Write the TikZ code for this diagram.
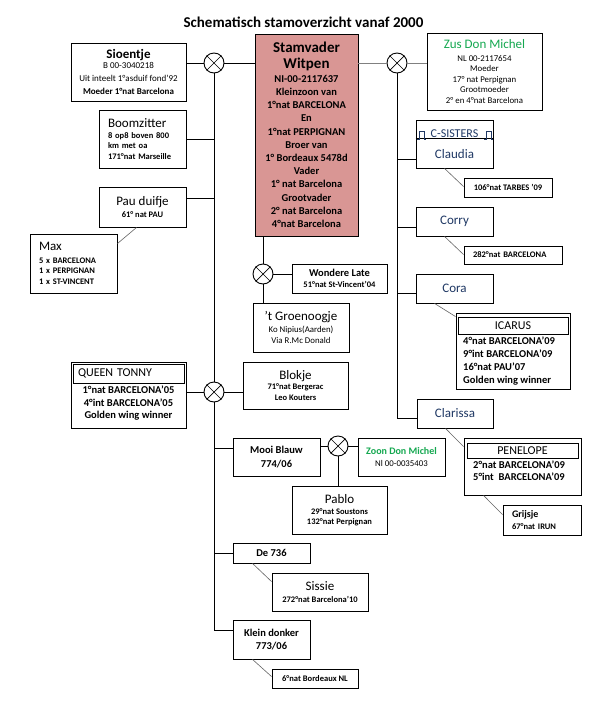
\documentclass[tikz,border=0pt]{standalone}
\usepackage{fontspec}
\setmainfont{Carlito}
\definecolor{stamfill}{RGB}{217,150,148}
\definecolor{dgreen}{RGB}{20,168,80}
\definecolor{navy}{RGB}{31,56,100}
\definecolor{lgray}{RGB}{100,100,100}
\newcommand\fsz[2]{\fontsize{#1}{#2}\selectfont}
\begin{document}
\begin{tikzpicture}[x=1pt,y=-1pt,
  box/.style={draw, line width=0.9pt, inner sep=0pt, align=center},
  xc/.style={draw, circle, line width=0.9pt, minimum size=20pt, inner sep=0pt},
  link/.style={line width=0.9pt},
  glink/.style={line width=0.9pt, draw=gray},
  diag/.style={line width=0.6pt, draw=lgray},
  orn/.style={line width=0.6pt, draw=navy},
]
\fill[white] (0,0) rectangle (615,718);
\useasboundingbox (0,0) rectangle (615,718);

\node[font=\fsz{15}{18}\bfseries] (title) at (303.5,22) {Schematisch stamoverzicht vanaf 2000};

% top row
\node[box, minimum width=115pt, minimum height=58pt, font=\fsz{9}{13}] (sio) at (128.5,72)
  {{\fsz{13}{13}\bfseries Sioentje}\\[-3pt] B 00-3040218\\ Uit inteelt 1°asduif fond'92\\ \bfseries Moeder 1°nat Barcelona};
\node[xc] (c1) at (214,63) {};
\node[box, fill=stamfill, minimum width=103pt, minimum height=202pt, font=\fsz{10.5}{13.2}\bfseries] (stam) at (306.5,135)
  {{\fsz{15}{15}\bfseries Stamvader}\\[2pt] {\fsz{15}{15}\bfseries Witpen}\\[1pt] NI-00-2117637\\ Kleinzoon van\\ 1°nat BARCELONA\\ En\\ 1°nat PERPIGNAN\\ Broer van\\ 1° Bordeaux 5478d\\ Vader\\ 1° nat Barcelona\\ Grootvader\\ 2° nat Barcelona\\ 4°nat Barcelona};
\node[xc] (c2) at (397,63) {};
\node[box, minimum width=115pt, minimum height=77pt, font=\fsz{8.8}{10.5}] (zus) at (484.5,71.5)
  {{\fsz{13}{13}\color{dgreen}Zus Don Michel}\\[2pt] NL 00-2117654\\ Moeder\\ 17° nat Perpignan\\ Grootmoeder\\ 2° en 4°nat Barcelona};

% left column
\node[box, minimum width=87pt, minimum height=58pt, align=left, text width=69pt, inner xsep=9pt, font=\fsz{8.5}{10.7}\bfseries] (boom) at (142.5,139)
  {{\fsz{13}{13}\mdseries Boomzitter}\\ 8 op8 boven 800\\ km met oa\\ 171°nat Marseille};
\node[box, minimum width=87pt, minimum height=40pt, font=\fsz{8.5}{12.6}\bfseries] (pau) at (142.5,207)
  {{\fsz{13}{13}\mdseries Pau duifje}\\ 61° nat PAU};
\node[box, minimum width=87pt, minimum height=59pt, align=left, text width=69pt, inner xsep=9pt, font=\fsz{8.5}{10.5}\bfseries] (max) at (73.5,263.5)
  {{\fsz{13}{13}\mdseries Max}\\[2pt] 5 x BARCELONA\\ 1 x PERPIGNAN\\ 1 x ST-VINCENT};

% under Stamvader
\node[xc] (c3) at (263,274) {};
\node[box, minimum width=95pt, minimum height=29pt, font=\fsz{8.5}{10.7}\bfseries] (wl) at (339.5,278.5)
  {{\fsz{10.5}{10.5}\bfseries Wondere Late}\\ 51°nat St-Vincent'04};
\node[box, minimum width=96pt, minimum height=49pt, font=\fsz{8.8}{10.5}] (gr) at (301,327.5)
  {{\fsz{13}{13}'t Groenoogje}\\[1.5pt] Ko Nipius(Aarden)\\ Via R.Mc Donald};

% C-sisters
\node[box, minimum width=77pt, minimum height=48pt, font=\fsz{13}{20.7}\color{navy}] (cla) at (454.5,144)
  {{\fsz{12}{12}C-SISTERS}\\ Claudia};
\draw[line width=0.9pt] ([yshift=-19pt]cla.north west) -- ([yshift=-19pt]cla.north east);
\draw[orn] (417,139) -- (419,139) -- (419,131.5) -- (424,131.5) -- (424,139) -- (426,139);
\draw[orn] (484,139) -- (486,139) -- (486,131.5) -- (491,131.5) -- (491,139) -- (493,139);
\node[box, minimum width=88pt, minimum height=19pt, font=\fsz{8.5}{10}\bfseries] (tar) at (508,187.5) {106°nat TARBES '09};
\node[box, minimum width=77pt, minimum height=29pt, font=\fsz{13}{13}\color{navy}] (cor) at (454.5,221.5) {Corry};
\node[box, minimum width=98pt, minimum height=18pt, align=left, text width=80pt, inner xsep=9pt, font=\fsz{8.5}{10}\bfseries] (n282) at (513,255) {282°nat BARCELONA};
\node[box, minimum width=77pt, minimum height=29pt, font=\fsz{13}{13}\color{navy}] (cora) at (454.5,288.5) {Cora};
\node[box, minimum width=114pt, minimum height=76pt] (icarus) at (513,351) {};
\node[box, line width=0.8pt, minimum width=110pt, minimum height=17pt, font=\fsz{12}{12}] (ichead) at (513,325.5) {ICARUS};
\node[anchor=north west, inner sep=0pt, align=left, font=\fsz{10.5}{12.8}\bfseries] (ictext) at (463,337)
  {4°nat BARCELONA'09\\ 9°int BARCELONA'09\\ 16°nat PAU'07\\ Golden wing winner};
\node[box, minimum width=76pt, minimum height=29pt, font=\fsz{13}{13}\color{navy}] (clar) at (455,413.5) {Clarissa};
\node[box, minimum width=117pt, minimum height=57pt] (pen) at (522.5,466.5) {};
\node[box, line width=0.8pt, minimum width=111pt, minimum height=15pt, font=\fsz{12}{12}] (phead) at (522.5,450.5) {PENELOPE};
\node[anchor=north west, inner sep=0pt, align=left, font=\fsz{10.5}{11.7}\bfseries] (ptext) at (473,461)
  {2°nat BARCELONA'09\\ 5°int\ \ BARCELONA'09};
\node[box, minimum width=78pt, minimum height=30pt, align=left, text width=60pt, inner xsep=9pt, font=\fsz{8.5}{12}\bfseries] (grij) at (542,520)
  {{\fsz{10}{10}Grijsje}\\ 67°nat IRUN};

% lower left
\node[box, minimum width=115pt, minimum height=66pt] (queen) at (128.5,395) {};
\node[box, line width=0.8pt, minimum width=111pt, minimum height=19pt, align=left, text width=101pt, inner xsep=5pt, font=\fsz{12}{12}] (qhead) at (128.5,373.5) {QUEEN TONNY};
\node[anchor=north, inner sep=0pt, align=center, font=\fsz{10.5}{12.2}\bfseries] (qtext) at (128.5,386)
  {1°nat BARCELONA'05\\ 4°int BARCELONA'05\\ Golden wing winner};
\node[xc] (c4) at (214,392) {};
\node[box, minimum width=105pt, minimum height=47pt, font=\fsz{8.5}{11}\bfseries] (blok) at (295.5,385.5)
  {{\fsz{13}{13}\mdseries Blokje}\\[-1pt] 71°nat Bergerac\\ Leo Kouters};
\node[box, minimum width=87pt, minimum height=38pt, font=\fsz{10.5}{13.3}\bfseries] (mb) at (276.5,457)
  {Mooi Blauw\\ 774/06};
\node[xc] (c5) at (338,446) {};
\node[box, minimum width=87pt, minimum height=38pt, font=\fsz{8.8}{11.7}] (zoon) at (401.5,457)
  {{\fsz{10}{10}\bfseries\color{dgreen}Zoon Don Michel}\\ Nl 00-0035403};
\node[box, minimum width=95pt, minimum height=48pt, font=\fsz{8.5}{10.3}\bfseries] (pablo) at (339.5,510)
  {{\fsz{13}{13}\mdseries Pablo}\\[0.7pt] 29°nat Soustons\\ 132°nat Perpignan};
\node[box, minimum width=77pt, minimum height=20pt, font=\fsz{10.5}{12}\bfseries] (de) at (271.5,553) {De 736};
\node[box, minimum width=96pt, minimum height=38pt, font=\fsz{8.5}{12.6}\bfseries] (sis) at (320,592)
  {{\fsz{13}{13}\mdseries Sissie}\\ 272°nat Barcelona'10};
\node[box, minimum width=77pt, minimum height=39pt, font=\fsz{10.5}{12.7}\bfseries] (kd) at (271.5,639.5)
  {Klein donker\\ 773/06};
\node[box, minimum width=86pt, minimum height=19pt, font=\fsz{8.5}{10}\bfseries] (bord) at (315,678.5) {6°nat Bordeaux NL};

% crosses in circles
\foreach \c in {c1,c2,c3,c4,c5}{
  \draw[line width=0.7pt] (\c.north west) -- (\c.south east);
  \draw[line width=0.7pt] (\c.north east) -- (\c.south west);
}

% branch points
\coordinate (paub) at ([yshift=9pt]pau.east);
\coordinate (mbb) at ([yshift=9pt]mb.west);
\coordinate (kdb) at ([yshift=9.5pt]kd.west);
\coordinate (clb) at ([yshift=-15pt]cla.west);
\coordinate (corb) at ([yshift=-5.5pt]cor.west);
\coordinate (corab) at ([yshift=-4.5pt]cora.west);
\coordinate (clarb) at ([yshift=-4.5pt]clar.west);

% top connectors
\draw[link] (c1.west -| sio.east) -- (c1.west);
\draw[link] (c1.east) -- (c1.east -| stam.west);
\draw[glink] (c2.west -| stam.east) -- (c2.west);
\draw[glink] (c2.east) -- (c2.east -| zus.west);

% left trunk
\draw[link] (c1.south) -- (c4.north);
\draw[link] (c4.south) -- (c4.south |- kdb) -- (kdb);
\draw[link] (boom.east) -- (boom.east -| c1);
\draw[link] (paub) -- (paub -| c1);
\draw[link] (c4.west -| queen.east) -- (c4.west);
\draw[link] (c4.east) -- (c4.east -| blok.west);
\draw[link] (mbb -| c4) -- (mbb);
\draw[link] (de.west -| c4) -- (de.west);

% right trunk
\draw[link] (c2.south) -- (c2.south |- clarb) -- (clarb);
\draw[link] (clb -| c2) -- (clb);
\draw[link] (corb -| c2) -- (corb);
\draw[link] (corab -| c2) -- (corab);

% under Stamvader
\draw[link] (c3.north |- stam.south) -- (c3.north);
\draw[link] (c3.east) -- (c3.east -| wl.west);
\draw[link] (c3.south) -- (c3.south |- gr.north);

% Mooi Blauw
\draw[link] (c5.west -| mb.east) -- (c5.west);
\draw[link] (c5.east) -- (c5.east -| zoon.west);
\draw[link] (c5.south) -- (c5.south |- pablo.north);

% diagonal connectors
\draw[diag] ([xshift=38pt]pau.south west) -- ([yshift=-10pt]max.north east);
\draw[diag] ([xshift=29pt]cla.south west) -- ([yshift=-9pt]tar.north west);
\draw[diag] ([xshift=29pt]cor.south west) -- ([yshift=-9pt]n282.north west);
\draw[diag] ([xshift=19pt]cora.south west) -- ([yshift=-4pt]icarus.north west);
\draw[diag] ([xshift=29pt]clar.south west) -- ([yshift=-9pt]pen.north west);
\draw[diag] ([xshift=20pt]pen.south west) -- ([yshift=-10pt]grij.north west);
\draw[diag] ([xshift=20pt]de.south west) -- ([yshift=-9pt]sis.north west);
\draw[diag] ([xshift=20pt]kd.south west) -- ([yshift=-8pt]bord.north west);
\end{tikzpicture}
\end{document}
